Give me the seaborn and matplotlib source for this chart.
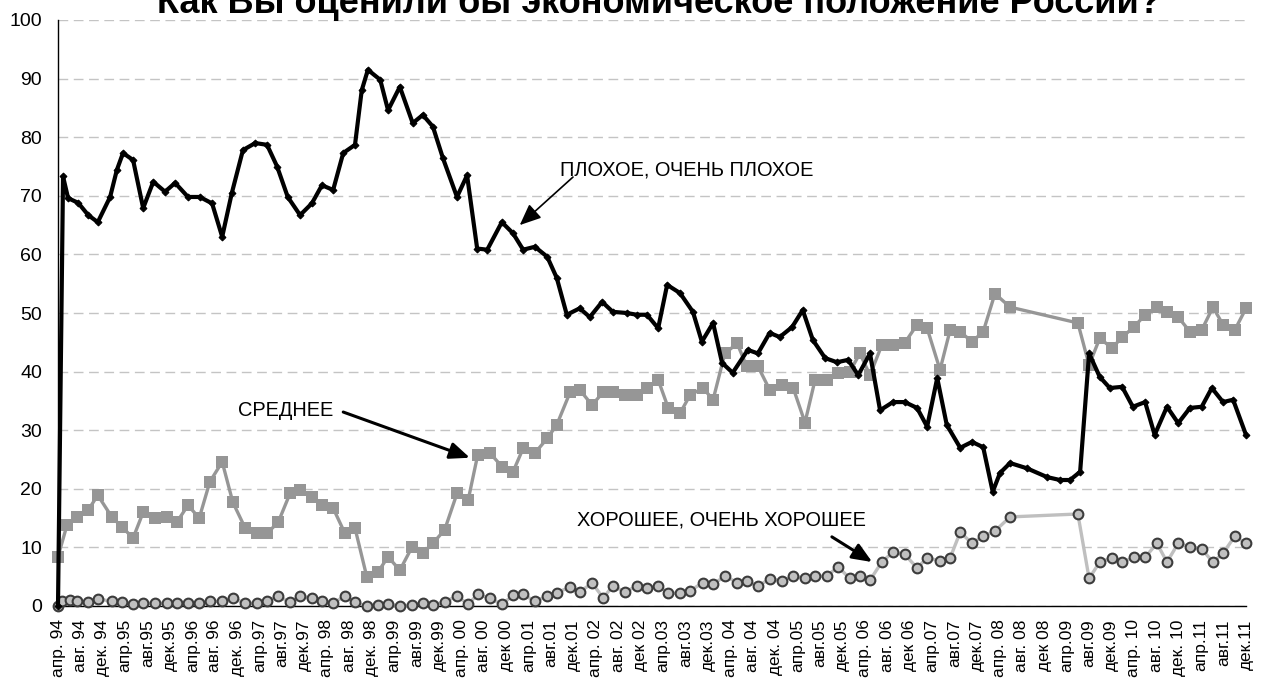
import matplotlib
matplotlib.use("Agg")
import matplotlib.pyplot as plt
import seaborn as sns
import pandas as pd
import numpy as np

# ---------------- data (x = months since April 1994) ----------------
title = "Как Вы оценили бы экономическое положение России?"

x_labels = ["апр. 94", "авг. 94", "дек. 94", "апр.95", "авг.95", "дек.95",
            "апр.96", "авг. 96", "дек. 96", "апр.97", "авг.97", "дек.97",
            "апр. 98", "авг. 98", "дек. 98", "апр.99", "авг.99", "дек.99",
            "апр. 00", "авг. 00", "дек 00", "апр.01", "авг.01", "дек.01",
            "апр. 02", "авг. 02", "дек 02", "апр.03", "авг.03", "дек.03",
            "апр. 04", "авг. 04", "дек. 04", "апр.05", "авг.05", "дек.05",
            "апр. 06", "авг. 06", "дек 06", "апр.07", "авг.07", "дек.07",
            "апр. 08", "авг. 08", "дек 08", "апр.09", "авг.09", "дек.09",
            "апр. 10", "авг. 10", "дек. 10", "апр.11", "авг.11", "дек.11"]

bad_month = [0, 0.9, 1.8, 3.6, 5.4, 7.1, 9.3, 10.5, 11.6, 13.4, 15.2, 17, 19.1, 20.9,
             23.2, 25.3, 27.5, 29.3, 31, 33, 35.2, 37.3, 39.1, 41, 43.2, 45.3, 47.1,
             49.1, 50.9, 53, 54.2, 55.3, 57.5, 58.9, 61, 63.3, 65.1, 66.9, 68.7, 71.2,
             73, 74.8, 76.6, 79.2, 81.2, 83, 85.1, 87.3, 89, 90.8, 93.1, 94.9, 97.1,
             99, 101.5, 103.3, 105.1, 107.1, 108.7, 111, 113.3, 114.9, 116.9, 118.5,
             120.4, 123.1, 124.9, 127, 128.8, 131, 132.9, 134.7, 136.9, 139, 141,
             142.8, 144.9, 146.7, 149, 151.1, 153.3, 155.1, 156.9, 158.6, 161, 163.1,
             165.1, 166.8, 168.1, 169.9, 172.9, 176.5, 178.8, 180.6, 182.4, 184,
             185.9, 187.7, 189.9, 191.8, 194, 195.7, 197.9, 199.9, 202, 204.1, 205.9,
             207.9, 209.7, 212]
bad_value = [0, 73.3, 69.6, 68.8, 66.7, 65.5, 69.8, 74.4, 77.3, 76.1, 67.9, 72.4, 70.7, 72.2,
             69.8, 69.8, 68.7, 63.0, 70.4, 77.8, 79.0, 78.7, 75.0, 69.8, 66.7, 68.7, 71.8,
             71.0, 77.3, 78.7, 88.0, 91.5, 89.8, 84.6, 88.6, 82.4, 83.8, 81.8, 76.4, 69.8,
             73.5, 61.0, 60.8, 65.5, 63.6, 60.8, 61.3, 59.6, 56.0, 49.7, 50.8, 49.3, 51.9,
             50.2, 50.0, 49.7, 49.7, 47.4, 54.8, 53.4, 50.2, 45.1, 48.3, 41.5,
             39.8, 43.7, 43.1, 46.6, 45.9, 47.6, 50.5, 45.4, 42.3, 41.6, 42.0,
             39.4, 43.1, 33.4, 34.8, 34.8, 33.8, 30.6, 38.9, 30.9, 27.0, 28.0,
             27.1, 19.5, 22.7, 24.4, 23.5, 22.0, 21.5, 21.5, 22.9, 43.1,
             39.1, 37.2, 37.4, 34.0, 34.8, 29.2, 34.0, 31.2, 33.8, 34.0, 37.2,
             34.8, 35.2, 29.2]

mid_month = [0, 1.6, 3.4, 5.4, 7.1, 9.6, 11.4, 13.4, 15.2, 17.3, 19.5, 21.2, 23.2, 25.2,
             27.1, 29.3, 31.2, 33.4, 35.5, 37.3, 39.3, 41.4, 43.2, 45.3, 47.1, 49.1,
             51.2, 53, 55.1, 57.1, 58.9, 61, 63.2, 65.1, 66.9, 69, 71.2, 73.2, 74.9,
             77.1, 79.2, 81.2, 83, 85.1, 87.3, 89, 91.4, 93.1, 95.3, 97.3, 99, 101.2,
             103.3, 105.1, 107.1, 108.9, 111, 112.8, 115.1, 116.9, 119, 121.2, 122.9,
             124.9, 127, 129.2, 131.2, 133.3, 135.1, 137.2, 139.2, 141.3, 143.1, 144.9,
             147, 149, 151.1, 153.3, 155.1, 157.4, 159.2, 161, 163.1, 165.1, 167.2,
             169.9, 182, 184, 185.9, 188.1, 189.9, 192, 194, 196.1, 197.9, 199.9, 202,
             204.1, 206.1, 207.9, 210, 212]
mid_value = [8.4, 13.8, 15.2, 16.4, 18.9, 15.2, 13.5, 11.6, 16.0, 15.0, 15.2, 14.3, 17.2, 15.0,
             21.2, 24.6, 17.7, 13.3, 12.4, 12.4, 14.3, 19.2, 19.8, 18.6, 17.2, 16.7,
             12.4, 13.3, 5.0, 5.8, 8.4, 6.1, 10.1, 9.0, 10.7, 13.0, 19.2, 18.1, 25.8,
             26.1, 23.8, 22.9, 26.9, 26.1, 28.6, 30.9, 36.5, 36.9, 34.3, 36.5, 36.5, 36.0,
             36.0, 37.2, 38.6, 33.8, 32.9, 36.0, 37.2, 35.2, 43.1, 44.8, 40.9,
             40.9, 36.9, 37.7, 37.2, 31.3, 38.6, 38.6, 39.7, 40.0, 43.1, 39.4,
             44.5, 44.5, 44.9, 48.0, 47.4, 40.3, 47.1, 46.8, 45.1, 46.8, 53.3,
             51.0, 48.3, 41.1, 45.7, 44.0, 45.9, 47.6, 49.7, 51.0, 50.2, 49.3, 46.8,
             47.1, 51.0, 48.0, 47.1, 50.8]

good_month = [0, 0.7, 2.1, 3.4, 5.4, 7.1, 9.6, 11.4, 13.4, 15.2, 17.3, 19.5, 21.2, 23.2,
              25.2, 27.1, 29.3, 31.2, 33.4, 35.5, 37.3, 39.3, 41.4, 43.2, 45.3, 47.1,
              49.1, 51.2, 53, 55.1, 57.1, 58.9, 61, 63.2, 65.1, 66.9, 69, 71.2, 73.2,
              74.9, 77.1, 79.2, 81.2, 83, 85.1, 87.3, 89, 91.4, 93.1, 95.3, 97.3, 99,
              101.2, 103.3, 105.1, 107.1, 108.9, 111, 112.8, 115.1, 116.9, 119, 121.2,
              122.9, 124.9, 127, 129.2, 131.2, 133.3, 135.1, 137.2, 139.2, 141.3, 143.1,
              144.9, 147, 149, 151.1, 153.3, 155.1, 157.4, 159.2, 161, 163.1, 165.1,
              167.2, 169.9, 182, 184, 185.9, 188.1, 189.9, 192, 194, 196.1, 197.9,
              199.9, 202, 204.1, 206.1, 207.9, 210, 212]
good_value = [0, 0.8, 1.0, 0.8, 0.7, 1.2, 0.8, 0.7, 0.3, 0.5, 0.5, 0.5, 0.5, 0.5,
              0.5, 0.8, 0.8, 1.3, 0.5, 0.5, 0.9, 1.7, 0.6, 1.7, 1.3, 0.8,
              0.5, 1.7, 0.6, 0.0, 0.2, 0.3, 0.0, 0.2, 0.5, 0.2, 0.7, 1.7, 0.3,
              2.0, 1.3, 0.3, 1.8, 2.0, 0.8, 1.7, 2.3, 3.2, 2.4, 3.9, 1.4, 3.4,
              2.4, 3.4, 3.0, 3.4, 2.2, 2.2, 2.6, 4.0, 3.7, 5.1, 4.0,
              4.2, 3.4, 4.6, 4.3, 5.1, 4.7, 5.1, 5.1, 6.7, 4.7, 5.1,
              4.4, 7.5, 9.2, 8.8, 6.5, 8.2, 7.7, 8.2, 12.6, 10.7, 11.9,
              12.8, 15.2, 15.7, 4.7, 7.5, 8.2, 7.5, 8.3, 8.3, 10.7, 7.5,
              10.7, 10.1, 9.7, 7.5, 9.0, 11.9, 10.7]

label_bad = "ПЛОХОЕ, ОЧЕНЬ ПЛОХОЕ"
label_mid = "СРЕДНЕЕ"
label_good = "ХОРОШЕЕ, ОЧЕНЬ ХОРОШЕЕ"

# ---------------- style ----------------
sns.set_theme(style="white")
plt.rcParams["font.family"] = ["Liberation Sans", "DejaVu Sans"]

W, H = 1264, 688
fig = plt.figure(figsize=(W / 100, H / 100), dpi=100)
fig.patch.set_facecolor("white")
ax = fig.add_axes([58 / W, 82 / H, 1188 / W, 586 / H])
ax.set_facecolor("white")

df_good = pd.DataFrame({"m": good_month, "v": good_value})
df_mid = pd.DataFrame({"m": mid_month, "v": mid_value})
df_bad = pd.DataFrame({"m": bad_month, "v": bad_value})

sns.lineplot(data=df_good, x="m", y="v", ax=ax, estimator=None, sort=False,
             color="#bfbfbf", lw=2.4, marker="o", markersize=7,
             markerfacecolor="#c0c0c0", markeredgecolor="#3c3c3c",
             markeredgewidth=1.5, clip_on=False, zorder=4, legend=False,
             solid_joinstyle="round")
sns.lineplot(data=df_mid, x="m", y="v", ax=ax, estimator=None, sort=False,
             color="#969696", lw=2.4, marker="s", markersize=8.5,
             markerfacecolor="#969696", markeredgewidth=0,
             clip_on=False, zorder=5, legend=False, solid_joinstyle="round")
sns.lineplot(data=df_bad, x="m", y="v", ax=ax, estimator=None, sort=False,
             color="black", lw=3.0, marker="D", markersize=3.5,
             markerfacecolor="black", markeredgecolor="black",
             clip_on=False, zorder=6, legend=False, solid_joinstyle="round")

ax.set_xlim(0, 212)
ax.set_ylim(0, 100)
ax.set_xlabel("")
ax.set_ylabel("")

ax.set_yticks(np.arange(0, 101, 10))
ax.set_yticklabels([str(v) for v in range(0, 101, 10)], fontsize=14)
ax.set_xticks(np.arange(0, 213, 4))
ax.set_xticklabels(x_labels, rotation=90, fontsize=12.5)

ax.yaxis.grid(True, color="#c4c4c4", linestyle=(0, (7, 4)), linewidth=1.0)
ax.xaxis.grid(False)
ax.set_axisbelow(True)

for s in ["top", "right"]:
    ax.spines[s].set_visible(False)
for s in ["left", "bottom"]:
    ax.spines[s].set_color("black")
    ax.spines[s].set_linewidth(1.0)

ax.tick_params(axis="y", which="major", direction="out", length=4, width=1,
               color="black", pad=7.5, labelcolor="black")
ax.tick_params(axis="x", which="major", direction="out", length=4.5, width=1,
               color="black", pad=5, labelcolor="black")

# title (partly cut at the top, as in the reference)
fig.text(659 / W, (H - 13) / H, title, ha="center", va="baseline",
         fontsize=26, fontweight="bold", color="black")

# annotations
ax.text(89.6, 74.4, label_bad, ha="left", va="center", fontsize=14.4, color="black")
ax.text(32.1, 33.4, label_mid, ha="left", va="center", fontsize=14.4, color="black")
ax.text(92.6, 14.7, label_good, ha="left", va="center", fontsize=14.4, color="black")

ax.annotate("", xy=(82.4, 65.0), xytext=(91.9, 73.2),
            arrowprops=dict(arrowstyle="-|>,head_length=0.65,head_width=0.28",
                            lw=1.2, color="black", shrinkA=0, shrinkB=0,
                            mutation_scale=20))
ax.annotate("", xy=(73.5, 25.3), xytext=(50.9, 33.1),
            arrowprops=dict(arrowstyle="-|>,head_length=0.6,head_width=0.25",
                            lw=2.2, color="black", shrinkA=0, shrinkB=0,
                            mutation_scale=20))
ax.annotate("", xy=(145.3, 7.5), xytext=(138.1, 11.8),
            arrowprops=dict(arrowstyle="-|>,head_length=0.6,head_width=0.25",
                            lw=2.2, color="black", shrinkA=0, shrinkB=0,
                            mutation_scale=20))

fig.savefig("out.png", dpi=100, facecolor="white")
